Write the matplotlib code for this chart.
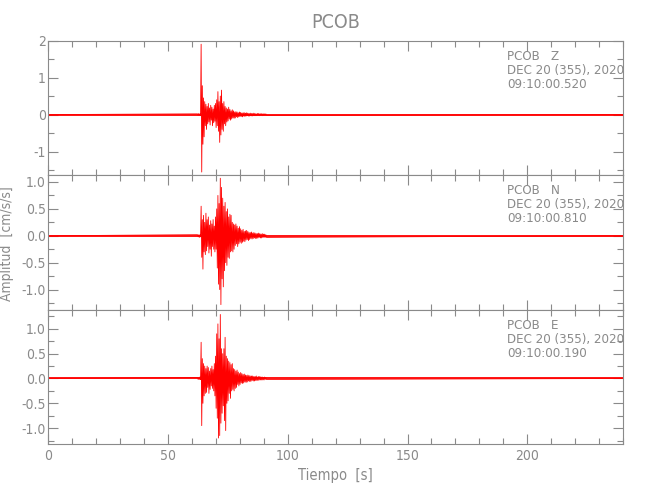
import matplotlib
matplotlib.use("Agg")
import matplotlib.pyplot as plt
from matplotlib.ticker import MultipleLocator, FormatStrFormatter
import numpy as np

plt.rcParams['font.family'] = ['DejaVu Sans']
plt.rcParams['font.stretch'] = 'condensed'

# trace samples: event window starts at t0, step dt (s)
t0 = 62.4
dt = 0.25
t_end = 240.0

z_amp = [0.02, -0.02, 0.03, -0.02, 0.02, -0.03,
         1.9, -1.55, 0.78, -0.8, 0.45, -0.6, 0.35, -0.3, 0.28, -0.4,
         0.22, -0.25, 0.3, -0.2, 0.18, -0.28, 0.25, -0.15, 0.2, -0.3,
         0.15, -0.22, 0.25, -0.18, 0.3, -0.35, 0.4, -0.3, 0.62, -0.45,
         0.35, -0.75, 0.5, -0.55, 0.66, -0.4, 0.3, -0.45, 0.35, -0.25,
         0.22, -0.3, 0.18, -0.2, 0.15, -0.17, 0.2, -0.12, 0.14, -0.15,
         0.1, -0.12, 0.13, -0.09, 0.1, -0.1, 0.07, -0.09, 0.08, -0.06,
         0.07, -0.08, 0.05, -0.06, 0.07, -0.05, 0.06, -0.05, 0.04, -0.06,
         0.05, -0.04, 0.05, -0.05, 0.04, -0.04, 0.05, -0.03, 0.04, -0.04,
         0.03, -0.04, 0.04, -0.03, 0.03, -0.04, 0.03, -0.03, 0.04, -0.03,
         0.03, -0.03, 0.02, -0.03, 0.03, -0.02, 0.03, -0.03, 0.02, -0.02,
         0.03, -0.02, 0.02, -0.03, 0.02, -0.02, 0.02, -0.02, 0.02, -0.02]

n_amp = [0.02, -0.02, 0.02, -0.03, 0.02, -0.02,
         0.55, -0.4, 0.3, -0.62, 0.38, -0.3, 0.25, -0.35, 0.42, -0.28,
         0.3, -0.2, 0.35, -0.32, 0.2, -0.25, 0.28, -0.38, 0.22, -0.2,
         0.3, -0.25, 0.18, -0.3, 0.35, -0.25, 0.5, -0.6, 0.75, -0.9,
         0.6, -1.0, 1.07, -1.28, 0.9, -0.8, 0.7, -0.95, 0.55, -0.65,
         0.62, -0.5, 0.45, -0.55, 0.5, -0.4, 0.35, -0.42, 0.4, -0.3,
         0.38, -0.28, 0.25, -0.3, 0.22, -0.25, 0.2, -0.18, 0.22, -0.15,
         0.18, -0.2, 0.14, -0.15, 0.17, -0.12, 0.13, -0.14, 0.1, -0.12,
         0.12, -0.1, 0.08, -0.11, 0.09, -0.08, 0.1, -0.07, 0.08, -0.09,
         0.06, -0.07, 0.06, -0.05, 0.07, -0.06, 0.05, -0.05, 0.06, -0.04,
         0.05, -0.05, 0.04, -0.05, 0.04, -0.04, 0.05, -0.03, 0.04, -0.04,
         0.03, -0.04, 0.04, -0.03, 0.03, -0.03, 0.03, -0.03, 0.02, -0.03]

e_amp = [0.02, -0.02, 0.02, -0.02, 0.03, -0.02,
         0.73, -0.95, 0.4, -0.5, 0.3, -0.35, 0.25, -0.3, 0.2, -0.28,
         0.25, -0.18, 0.22, -0.3, 0.15, -0.22, 0.2, -0.15, 0.25, -0.2,
         0.18, -0.25, 0.3, -0.35, 0.45, -0.6, 0.9, -0.8, 1.1, -1.2,
         0.8, -1.15, 1.29, -0.9, 0.6, -0.7, 0.5, -0.55, 0.6, -0.85,
         0.83, -1.05, 0.45, -0.5, 0.4, -0.45, 0.35, -0.3, 0.32, -0.4,
         0.28, -0.25, 0.3, -0.22, 0.2, -0.25, 0.18, -0.2, 0.15, -0.18,
         0.17, -0.12, 0.13, -0.15, 0.1, -0.12, 0.12, -0.09, 0.1, -0.1,
         0.08, -0.09, 0.09, -0.07, 0.07, -0.08, 0.06, -0.07, 0.07, -0.05,
         0.06, -0.06, 0.05, -0.06, 0.05, -0.04, 0.05, -0.05, 0.04, -0.05,
         0.04, -0.04, 0.05, -0.04, 0.03, -0.04, 0.04, -0.03, 0.04, -0.03,
         0.03, -0.03, 0.03, -0.03, 0.02, -0.03, 0.03, -0.02, 0.02, -0.02]

channels = ["Z", "N", "E"]
start_times = ["09:10:00.520", "09:10:00.810", "09:10:00.190"]
date_txt = "DEC 20 (355), 2020"
station = "PCOB"

ylims = [(-1.63, 2.0), (-1.38, 1.13), (-1.32, 1.38)]
ymajor = [1.0, 0.5, 0.5]
yminor = [0.5, 0.25, 0.25]
yfmt = ["%d", "%.1f", "%.1f"]

grey = "#8a8a8a"
# panel rectangles in figure fractions (left, bottom, width, height)
boxes = [(0.0738, 0.650, 0.885, 0.269),
         (0.0738, 0.380, 0.885, 0.270),
         (0.0738, 0.112, 0.885, 0.268)]

fig = plt.figure(figsize=(6.5, 5), dpi=100)
traces = [z_amp, n_amp, e_amp]
for k in range(3):
    ax = fig.add_axes(boxes[k])
    amp = traces[k]
    tt = t0 + dt * np.arange(len(amp))
    tt = np.concatenate([[0.0], tt, [t_end]])
    yy = np.concatenate([[0.0], amp, [0.0]])
    ax.plot([0, t_end], [0, 0], color="red", lw=1.3)
    ax.plot(tt, yy, color="red", lw=0.6)
    ax.set_xlim(0, t_end)
    ax.set_ylim(*ylims[k])
    ax.xaxis.set_major_locator(MultipleLocator(50))
    ax.xaxis.set_minor_locator(MultipleLocator(10))
    ax.yaxis.set_major_locator(MultipleLocator(ymajor[k]))
    ax.yaxis.set_minor_locator(MultipleLocator(yminor[k]))
    ax.yaxis.set_major_formatter(FormatStrFormatter(yfmt[k]))
    ax.tick_params(which="both", direction="in", top=True, right=True,
                   color=grey, labelcolor=grey, labelsize=10, width=0.8)
    ax.tick_params(which="major", length=7)
    ax.tick_params(which="minor", length=4)
    ax.tick_params(axis="y", pad=1.5)
    for sp in ax.spines.values():
        sp.set_color(grey)
        sp.set_linewidth(0.8)
    if k < 2:
        ax.set_xticklabels([])
    else:
        ax.set_xlabel("Tiempo  [s]", color=grey, fontsize=10.5)
    if k == 1:
        ax.set_ylabel("Amplitud  [cm/s/s]", color=grey, fontsize=10)
        ax.yaxis.set_label_coords(-0.059, 0.49)
    ax.text(0.798, 0.93, station + "   " + channels[k] + "\n" + date_txt + "\n" + start_times[k],
            transform=ax.transAxes, va="top", ha="left", color=grey,
            fontsize=9.5, linespacing=1.1)
    if k == 0:
        ax.set_title(station, color=grey, fontsize=14, pad=9)

fig.savefig("out.png", dpi=100)
